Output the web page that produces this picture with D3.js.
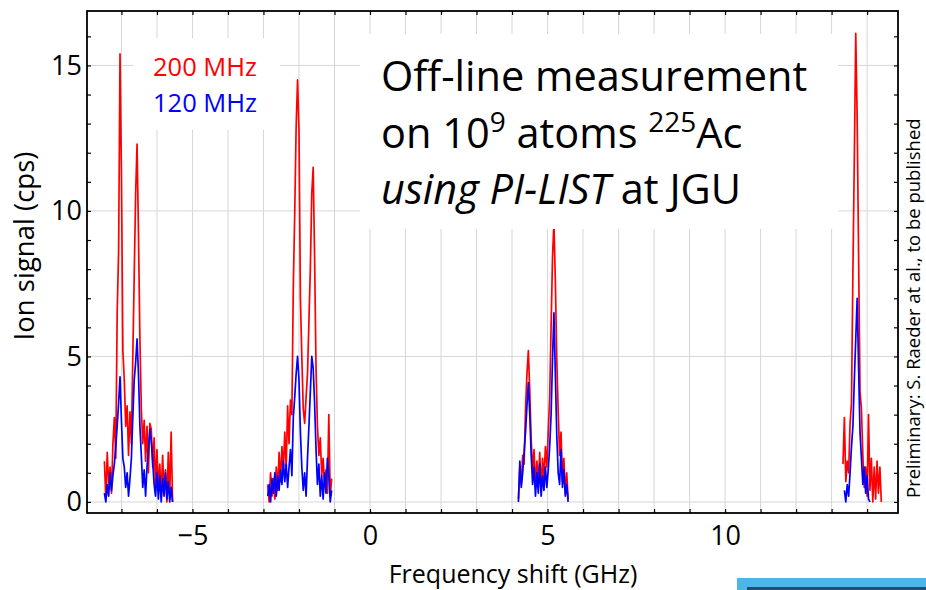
<!DOCTYPE html>
<html>
<head>
<meta charset="utf-8">
<script src="https://cdn.jsdelivr.net/npm/d3@7"></script>
<style>
  body { margin: 0; background: #fff; }
  svg { display: block; font-family: "Open Sans", sans-serif; }
</style>
</head>
<body>
<div id="chart"></div>
<script>
// Scan data: each segment starts at a frequency (GHz) and is sampled every scanStep GHz
var scanStep = 0.04;

// 200 MHz scan (red), ion signal in cps
var redStarts = [-7.48, -2.88, 4.18, 13.32];
var red1 = [1.4, 0.1, 1.7, 0.6, 1.2, 0.3, 2.0, 2.9, 1.5, 6.5, 8.6, 15.4, 11.3, 5.2, 4.2, 2.6, 3.3,
    1.6, 3.1, 2.0, 5.0, 7.8, 10.6, 12.3, 9.2, 5.6, 3.2, 2.0, 2.8, 1.4, 2.6, 1.0, 2.7, 2.5, 1.2,
    2.2, 0.5, 1.8, 0.4, 1.3, 0.2, 1.6, 0.3, 1.1, 0.0, 1.7, 0.2, 2.4, 0.0];
var red2 = [0.6, 0.0, 1.0, 0.2, 0.8, 0.1, 1.2, 0.4, 1.7, 0.7, 1.9, 1.1, 2.4, 1.2, 3.3, 2.0, 3.5,
    3.0, 7.4, 9.9, 12.9, 14.5, 12.8, 7.0, 5.0, 3.2, 2.7, 3.6, 4.4, 6.2, 8.0, 10.6, 11.5, 8.4, 4.6,
    2.6, 1.6, 2.2, 0.9, 1.5, 0.6, 1.1, 0.3, 3.0, 0.2, 0.8];
var red3 = [0.1, 1.2, 0.6, 1.6, 1.3, 3.2, 4.4, 5.2, 3.8, 2.1, 1.1, 1.8, 0.5, 1.4, 0.6, 1.7, 0.4,
    1.5, 0.8, 1.9, 1.2, 2.4, 3.6, 6.0, 8.4, 9.6, 7.6, 4.9, 3.1, 1.6, 2.4, 0.7, 1.5, 0.3, 1.0, 0.1];
var red4 = [1.3, 2.9, 0.7, 1.4, 1.0, 2.7, 3.4, 7.9, 11.8, 16.1, 13.2, 8.5, 3.8, 3.2, 1.6, 0.5, 1.2,
    0.2, 3.0, 0.4, 1.5, 0.0, 1.2, 0.1, 1.4, 0.3, 1.2, 0.0];

// 120 MHz scan (blue)
var blueStarts = [-7.48, -2.88, 4.18, 13.36];
var blue1 = [0.3, 0.0, 0.6, 0.2, 1.0, 0.4, 0.9, 1.3, 1.9, 2.6, 3.4, 4.3, 2.8, 1.5, 1.2, 0.5, 1.0,
    0.2, 0.8, 1.5, 2.9, 4.2, 4.8, 5.6, 4.4, 2.6, 1.6, 0.5, 1.1, 0.2, 1.2, 1.8, 2.5, 2.1, 1.4, 0.6,
    0.2, 1.0, 0.1, 0.9, 0.0, 0.8, 0.2, 1.0, 0.1, 0.7, 0.0, 0.5, 0.0];
var blue2 = [0.2, 0.6, 0.0, 0.8, 0.3, 1.0, 0.2, 0.9, 0.4, 1.1, 0.6, 1.4, 0.7, 1.3, 0.5, 1.2, 1.8,
    0.9, 2.9, 3.6, 4.4, 5.0, 4.2, 2.4, 1.2, 0.4, 1.0, 0.2, 1.5, 2.6, 3.8, 5.0, 4.6, 3.4, 1.8, 0.6,
    1.3, 0.2, 0.9, 0.1, 1.0, 0.3, 1.5, 0.9, 0.0, 0.4];
var blue3 = [0.0, 1.4, 0.5, 1.0, 1.7, 2.4, 3.3, 4.1, 3.0, 1.6, 0.6, 1.2, 0.2, 1.0, 0.3, 1.3, 0.2,
    0.9, 0.4, 1.2, 0.5, 1.1, 1.9, 3.0, 4.9, 6.5, 4.4, 2.3, 1.0, 0.6, 1.8, 0.5, 1.1, 0.2, 0.6, 0.0];
var blue4 = [0.4, 0.0, 0.6, 0.2, 1.0, 1.9, 2.6, 4.2, 5.6, 7.0, 4.6, 2.4, 1.5, 0.6, 1.2, 0.3, 0.9,
    0.1, 0.0];

// Axis ticks and labels
var xTicks = d3.range(-7, 15);
var xLabelTicks = [-5, 0, 5, 10];
var yTicks = d3.range(0, 17);
var yLabelTicks = [0, 5, 10, 15];

var svgWidth = 926;
var svgHeight = 590;

// plot frame in pixels
var frame = { left: 87, right: 898, top: 11, bottom: 513 };

var svg = d3.select('#chart')
    .append('svg')
    .attr('width', svgWidth)
    .attr('height', svgHeight);

var x = d3.scaleLinear()
    .domain([-7.97, 14.87])
    .range([frame.left, frame.right]);

var y = d3.scaleLinear()
    .domain([-0.38, 16.87])
    .range([frame.bottom, frame.top]);

// Gridlines: every GHz vertically, every 5 cps horizontally
svg.append('g')
    .selectAll('line')
    .data(xTicks)
    .enter()
    .append('line')
    .attr('x1', d => x(d))
    .attr('x2', d => x(d))
    .attr('y1', frame.top)
    .attr('y2', frame.bottom)
    .attr('stroke', '#d6d6d6')
    .attr('stroke-width', 1);

svg.append('g')
    .selectAll('line')
    .data(yLabelTicks)
    .enter()
    .append('line')
    .attr('x1', frame.left)
    .attr('x2', frame.right)
    .attr('y1', d => y(d))
    .attr('y2', d => y(d))
    .attr('stroke', '#d6d6d6')
    .attr('stroke-width', 1);

// Turning the start + samples into point lists
function toPoints(start, values) {
    return values.map((v, i) => [start + i * scanStep, v]);
}

var line = d3.line()
    .x(d => x(d[0]))
    .y(d => y(d[1]));

var redSegments = [red1, red2, red3, red4].map((vals, i) => toPoints(redStarts[i], vals));
var blueSegments = [blue1, blue2, blue3, blue4].map((vals, i) => toPoints(blueStarts[i], vals));

svg.append('g')
    .selectAll('path')
    .data(redSegments)
    .enter()
    .append('path')
    .attr('d', line)
    .attr('fill', 'none')
    .attr('stroke', '#ff0000')
    .attr('stroke-width', 1.7)
    .attr('stroke-linejoin', 'round');

svg.append('g')
    .selectAll('path')
    .data(blueSegments)
    .enter()
    .append('path')
    .attr('d', line)
    .attr('fill', 'none')
    .attr('stroke', '#0000ff')
    .attr('stroke-width', 1.7)
    .attr('stroke-linejoin', 'round');

// Axes with short inward ticks on all four sides
var fmtX = d => xLabelTicks.includes(d) ? (d < 0 ? '\u2212' + Math.abs(d) : d) : '';
var fmtY = d => yLabelTicks.includes(d) ? d : '';

var bottomAxis = svg.append('g')
    .attr('transform', `translate(0, ${frame.bottom})`)
    .call(d3.axisBottom(x).tickValues(xTicks).tickSize(-4).tickPadding(13).tickFormat(fmtX));

var leftAxis = svg.append('g')
    .attr('transform', `translate(${frame.left}, 0)`)
    .call(d3.axisLeft(y).tickValues(yTicks).tickSize(-4).tickPadding(5).tickFormat(fmtY));

svg.append('g')
    .attr('transform', `translate(0, ${frame.top})`)
    .call(d3.axisTop(x).tickValues(xTicks).tickSize(-4).tickFormat(''));

svg.append('g')
    .attr('transform', `translate(${frame.right}, 0)`)
    .call(d3.axisRight(y).tickValues(yTicks).tickSize(-4).tickFormat(''));

svg.selectAll('.domain').remove();
svg.selectAll('.tick line').attr('stroke', '#000').attr('stroke-width', 1.2);
svg.selectAll('.tick text')
    .attr('font-family', '"Open Sans", sans-serif')
    .attr('font-size', 27)
    .attr('fill', '#000');

// Frame
svg.append('rect')
    .attr('x', frame.left)
    .attr('y', frame.top)
    .attr('width', frame.right - frame.left)
    .attr('height', frame.bottom - frame.top)
    .attr('fill', 'none')
    .attr('stroke', '#000')
    .attr('stroke-width', 1.8);

// Axis titles
svg.append('text')
    .attr('x', 513)
    .attr('y', 583)
    .attr('text-anchor', 'middle')
    .attr('font-size', 25)
    .text('Frequency shift (GHz)');

svg.append('text')
    .attr('transform', 'translate(34, 246) rotate(-90)')
    .attr('text-anchor', 'middle')
    .attr('font-size', 27.5)
    .text('Ion signal (cps)');

// Legend (white box over the grid)
svg.append('rect')
    .attr('x', 133).attr('y', 38)
    .attr('width', 147).attr('height', 92)
    .attr('fill', '#fff');

svg.append('text')
    .attr('x', 153).attr('y', 76)
    .attr('font-size', 25.5)
    .attr('fill', '#ff0000')
    .text('200 MHz');

svg.append('text')
    .attr('x', 153).attr('y', 112)
    .attr('font-size', 25.5)
    .attr('fill', '#0000ff')
    .text('120 MHz');

// Slide text box
svg.append('rect')
    .attr('x', 360).attr('y', 34)
    .attr('width', 478).attr('height', 195)
    .attr('fill', '#fff');

var note = svg.append('g').attr('font-size', 41.5).attr('fill', '#000');

note.append('text')
    .attr('x', 381).attr('y', 91)
    .text('Off-line measurement');

var line2 = note.append('text')
    .attr('x', 381).attr('y', 148);
line2.append('tspan').text('on 10');
line2.append('tspan').attr('font-size', 28).attr('dy', -16).text('9');
line2.append('tspan').attr('dy', 16).text(' atoms ');
line2.append('tspan').attr('font-size', 28).attr('dy', -16).text('225');
line2.append('tspan').attr('dy', 16).text('Ac');

var line3 = note.append('text')
    .attr('x', 381).attr('y', 204);
line3.append('tspan').attr('font-style', 'italic').text('using PI-LIST');
line3.append('tspan').text(' at JGU');

// Side note, rotated along the right edge
svg.append('text')
    .attr('transform', 'translate(920, 498) rotate(-90)')
    .attr('font-size', 18.5)
    .attr('fill', '#000')
    .text('Preliminary: S. Raeder at al., to be published');

// Slide footer bar
svg.append('rect')
    .attr('x', 737).attr('y', 578)
    .attr('width', 189).attr('height', 12)
    .attr('fill', '#4db6e6');
svg.append('rect')
    .attr('x', 747).attr('y', 587)
    .attr('width', 179).attr('height', 3)
    .attr('fill', '#1f4e79');
</script>
</body>
</html>
